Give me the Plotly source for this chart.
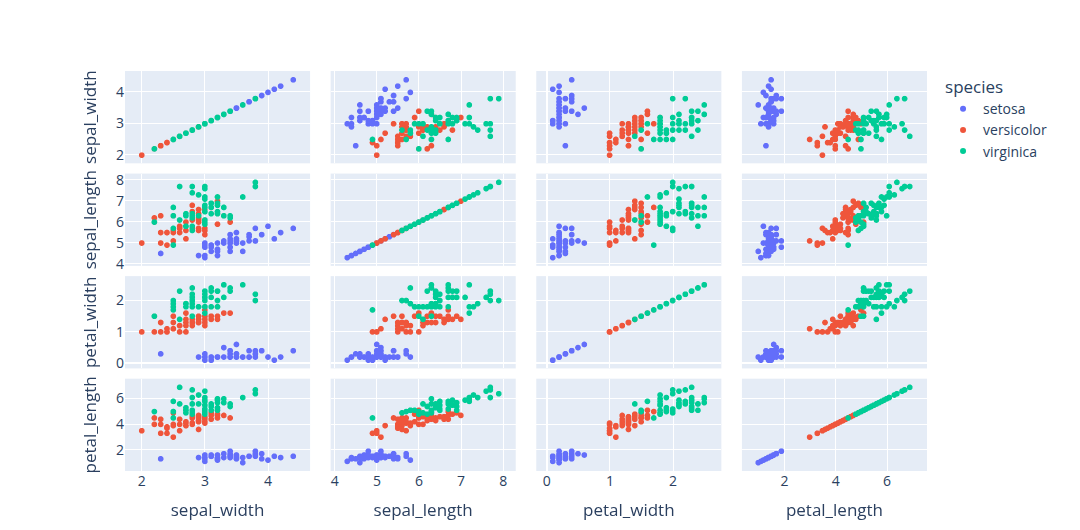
import pandas as pd
import plotly.express as px

# Fisher's iris measurements, in row order (setosa, versicolor, virginica)
sepal_length = [
    5.1, 4.9, 4.7, 4.6, 5.0, 5.4, 4.6, 5.0, 4.4, 4.9, 5.4, 4.8, 4.8, 4.3, 5.8, 5.7, 5.4, 5.1, 5.7, 5.1,
    5.4, 5.1, 4.6, 5.1, 4.8, 5.0, 5.0, 5.2, 5.2, 4.7, 4.8, 5.4, 5.2, 5.5, 4.9, 5.0, 5.5, 4.9, 4.4, 5.1,
    5.0, 4.5, 4.4, 5.0, 5.1, 4.8, 5.1, 4.6, 5.3, 5.0,
    7.0, 6.4, 6.9, 5.5, 6.5, 5.7, 6.3, 4.9, 6.6, 5.2, 5.0, 5.9, 6.0, 6.1, 5.6, 6.7, 5.6, 5.8, 6.2, 5.6,
    5.9, 6.1, 6.3, 6.1, 6.4, 6.6, 6.8, 6.7, 6.0, 5.7, 5.5, 5.5, 5.8, 6.0, 5.4, 6.0, 6.7, 6.3, 5.6, 5.5,
    5.5, 6.1, 5.8, 5.0, 5.6, 5.7, 5.7, 6.2, 5.1, 5.7,
    6.3, 5.8, 7.1, 6.3, 6.5, 7.6, 4.9, 7.3, 6.7, 7.2, 6.5, 6.4, 6.8, 5.7, 5.8, 6.4, 6.5, 7.7, 7.7, 6.0,
    6.9, 5.6, 7.7, 6.3, 6.7, 7.2, 6.2, 6.1, 6.4, 7.2, 7.4, 7.9, 6.4, 6.3, 6.1, 7.7, 6.3, 6.4, 6.0, 6.9,
    6.7, 6.9, 5.8, 6.8, 6.7, 6.7, 6.3, 6.5, 6.2, 5.9,
]
sepal_width = [
    3.5, 3.0, 3.2, 3.1, 3.6, 3.9, 3.4, 3.4, 2.9, 3.1, 3.7, 3.4, 3.0, 3.0, 4.0, 4.4, 3.9, 3.5, 3.8, 3.8,
    3.4, 3.7, 3.6, 3.3, 3.4, 3.0, 3.4, 3.5, 3.4, 3.2, 3.1, 3.4, 4.1, 4.2, 3.1, 3.2, 3.5, 3.1, 3.0, 3.4,
    3.5, 2.3, 3.2, 3.5, 3.8, 3.0, 3.8, 3.2, 3.7, 3.3,
    3.2, 3.2, 3.1, 2.3, 2.8, 2.8, 3.3, 2.4, 2.9, 2.7, 2.0, 3.0, 2.2, 2.9, 2.9, 3.1, 3.0, 2.7, 2.2, 2.5,
    3.2, 2.8, 2.5, 2.8, 2.9, 3.0, 2.8, 3.0, 2.9, 2.6, 2.4, 2.4, 2.7, 2.7, 3.0, 3.4, 3.1, 2.3, 3.0, 2.5,
    2.6, 3.0, 2.6, 2.3, 2.7, 3.0, 2.9, 2.9, 2.5, 2.8,
    3.3, 2.7, 3.0, 2.9, 3.0, 3.0, 2.5, 2.9, 2.5, 3.6, 3.2, 2.7, 3.0, 2.5, 2.8, 3.2, 3.0, 3.8, 2.6, 2.2,
    3.2, 2.8, 2.8, 2.7, 3.3, 3.2, 2.8, 3.0, 2.8, 3.0, 2.8, 3.8, 2.8, 2.8, 2.6, 3.0, 3.4, 3.1, 3.0, 3.1,
    3.1, 3.1, 2.7, 3.2, 3.3, 3.0, 2.5, 3.0, 3.4, 3.0,
]
petal_length = [
    1.4, 1.4, 1.3, 1.5, 1.4, 1.7, 1.4, 1.5, 1.4, 1.5, 1.5, 1.6, 1.4, 1.1, 1.2, 1.5, 1.3, 1.4, 1.7, 1.5,
    1.7, 1.5, 1.0, 1.7, 1.9, 1.6, 1.6, 1.5, 1.4, 1.6, 1.6, 1.5, 1.5, 1.4, 1.5, 1.2, 1.3, 1.5, 1.3, 1.5,
    1.3, 1.3, 1.3, 1.6, 1.9, 1.4, 1.6, 1.4, 1.5, 1.4,
    4.7, 4.5, 4.9, 4.0, 4.6, 4.5, 4.7, 3.3, 4.6, 3.9, 3.5, 4.2, 4.0, 4.7, 3.6, 4.4, 4.5, 4.1, 4.5, 3.9,
    4.8, 4.0, 4.9, 4.7, 4.3, 4.4, 4.8, 5.0, 4.5, 3.5, 3.8, 3.7, 3.9, 5.1, 4.5, 4.5, 4.7, 4.4, 4.1, 4.0,
    4.4, 4.6, 4.0, 3.3, 4.2, 4.2, 4.2, 4.3, 3.0, 4.1,
    6.0, 5.1, 5.9, 5.6, 5.8, 6.6, 4.5, 6.3, 5.8, 6.1, 5.1, 5.3, 5.5, 5.0, 5.1, 5.3, 5.5, 6.7, 6.9, 5.0,
    5.7, 4.9, 6.7, 4.9, 5.7, 6.0, 4.8, 4.9, 5.6, 5.8, 6.1, 6.4, 5.6, 5.1, 5.6, 6.1, 5.6, 5.5, 4.8, 5.4,
    5.6, 5.1, 5.1, 5.9, 5.7, 5.2, 5.0, 5.2, 5.4, 5.1,
]
petal_width = [
    0.2, 0.2, 0.2, 0.2, 0.2, 0.4, 0.3, 0.2, 0.2, 0.1, 0.2, 0.2, 0.1, 0.1, 0.2, 0.4, 0.4, 0.3, 0.3, 0.3,
    0.2, 0.4, 0.2, 0.5, 0.2, 0.2, 0.4, 0.2, 0.2, 0.2, 0.2, 0.4, 0.1, 0.2, 0.1, 0.2, 0.2, 0.1, 0.2, 0.2,
    0.3, 0.3, 0.2, 0.6, 0.4, 0.3, 0.2, 0.2, 0.2, 0.2,
    1.4, 1.5, 1.5, 1.3, 1.5, 1.3, 1.6, 1.0, 1.3, 1.4, 1.0, 1.5, 1.0, 1.4, 1.3, 1.4, 1.5, 1.0, 1.5, 1.1,
    1.8, 1.3, 1.5, 1.2, 1.3, 1.4, 1.4, 1.7, 1.5, 1.0, 1.1, 1.0, 1.2, 1.6, 1.5, 1.6, 1.5, 1.3, 1.3, 1.3,
    1.2, 1.4, 1.2, 1.0, 1.3, 1.2, 1.3, 1.3, 1.1, 1.3,
    2.5, 1.9, 2.1, 1.8, 2.2, 2.1, 1.7, 1.8, 1.8, 2.5, 2.0, 1.9, 2.1, 2.0, 2.4, 2.3, 1.8, 2.2, 2.3, 1.5,
    2.3, 2.0, 2.0, 1.8, 2.1, 1.8, 1.8, 1.8, 2.1, 1.6, 1.9, 2.0, 2.2, 1.5, 1.4, 2.3, 2.4, 1.8, 1.8, 2.1,
    2.4, 2.3, 1.9, 2.3, 2.5, 2.3, 1.9, 2.0, 2.3, 1.8,
]
species_names = ["setosa", "versicolor", "virginica"]
species = [name for name in species_names for _ in range(50)]

dimensions = ["sepal_width", "sepal_length", "petal_width", "petal_length"]

df = pd.DataFrame({
    "sepal_length": sepal_length,
    "sepal_width": sepal_width,
    "petal_length": petal_length,
    "petal_width": petal_width,
    "species": species,
})

fig = px.scatter_matrix(df, dimensions=dimensions, color="species")
fig.update_layout(
    width=1080,
    height=530,
    font=dict(size=14),
    margin=dict(l=117, r=161, t=63, b=67),
)

fig.write_html("out.html")
